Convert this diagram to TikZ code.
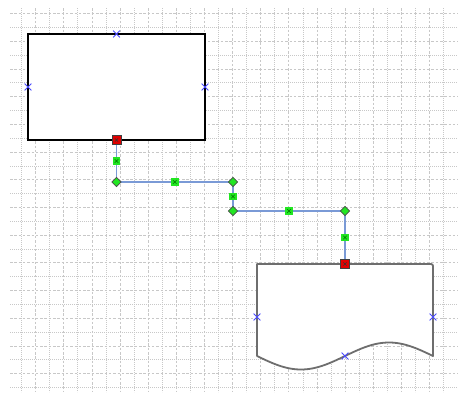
\documentclass[tikz,border=0pt]{standalone}
\usetikzlibrary{calc}
\definecolor{gridcol}{HTML}{C8C8C8}
\definecolor{linkcol}{HTML}{7A9AD6}
\definecolor{handlered}{HTML}{E00000}
\definecolor{handlegreen}{HTML}{22E622}
\definecolor{markblue}{HTML}{4A4AFF}
\definecolor{docline}{HTML}{6E6E6E}
\tikzset{
  gridmajor/.style={gridcol, line width=0.7pt, dash pattern=on 2.5pt off 1.8pt},
  gridminor/.style={gridcol, line width=0.7pt, dash pattern=on 0.8pt off 1.2pt},
  procbox/.style={draw=black, line width=1.3pt, fill=white, minimum width=177pt,
    minimum height=106pt, inner sep=0pt, outer sep=0pt},
  docshape/.style={draw=docline, line width=1.8pt, fill=white, line join=round},
  link/.style={linkcol, line width=1.4pt},
  xm/.pic={\draw[markblue, line width=0.9pt] (-3.4,-3.4) -- (3.4,3.4) (-3.4,3.4) -- (3.4,-3.4);},
  redhandle/.pic={
    \filldraw[fill=handlered, draw=black!75, line width=1pt] (-4.5,-4.5) rectangle (4.5,4.5);
    \draw[black!80, line width=0.5pt] (-1.6,-1.6) -- (1.6,1.6) (-1.6,1.6) -- (1.6,-1.6);},
  greensq/.pic={
    \fill[handlegreen] (-3.8,-3.8) rectangle (3.8,3.8);
    \draw[green!45!black, line width=0.4pt] (-1.8,-1.8) -- (1.8,1.8) (-1.8,1.8) -- (1.8,-1.8);},
  greendia/.pic={
    \filldraw[fill=handlegreen, draw=black!70, line width=0.7pt]
      (0,-4.6) -- (4.6,0) -- (0,4.6) -- (-4.6,0) -- cycle;}
}
\begin{document}
\begin{tikzpicture}[x=1pt,y=-1pt]
\useasboundingbox (0,0) rectangle (458,392);
\fill[white] (0,0) rectangle (458,392);

% background grid, major and minor lines alternating
\foreach \i in {0,...,30}{
  \pgfmathsetmacro{\gx}{21.5+14.07*\i}
  \ifodd\i
    \draw[gridmajor] (\gx,8) -- (\gx,392);
  \else
    \draw[gridminor] (\gx,8) -- (\gx,392);
  \fi
}
\foreach \j in {0,...,27}{
  \pgfmathsetmacro{\gy}{13.5+13.85*\j}
  \ifodd\j
    \draw[gridminor] (10,\gy) -- (458,\gy);
  \else
    \draw[gridmajor] (10,\gy) -- (458,\gy);
  \fi
}

% process box
\node[procbox] (proc) at (116.5,87) {};

% document shape with wavy bottom edge
\draw[docshape] (257,356) -- (257,264) -- (431,264)
  to[out=0,in=90] (433,266) -- (433,356)
  -- plot[domain=176:0, samples=80] ({257+\x},{356+13.5*sin(\x*2.04545)}) -- cycle;
\coordinate (doctop) at (345,264);

% orthogonal connector and its bend points
\coordinate (b1) at (116.5,182);
\coordinate (b2) at (233,182);
\coordinate (b3) at (233,211);
\coordinate (b4) at (345,211);
\draw[link] (proc.south) -- (b1) -- (b2) -- (b3) -- (b4) -- (doctop);

% connection points
\pic at (proc.north) {xm};
\pic at (proc.west) {xm};
\pic at (proc.east) {xm};
\pic at (257,317) {xm};
\pic at (433,317) {xm};
\pic at (345,356) {xm};

% segment midpoint handles
\pic at ($(proc.south)!0.5!(b1)$) {greensq};
\pic at ($(b1)!0.5!(b2)$) {greensq};
\pic at ($(b2)!0.5!(b3)$) {greensq};
\pic at ($(b3)!0.5!(b4)$) {greensq};
\pic at ($(b4)!0.5!(doctop)$) {greensq};

% bend handles
\pic at (b1) {greendia};
\pic at (b2) {greendia};
\pic at (b3) {greendia};
\pic at (b4) {greendia};

% glued end points
\pic at (proc.south) {redhandle};
\pic at (doctop) {redhandle};
\end{tikzpicture}
\end{document}
